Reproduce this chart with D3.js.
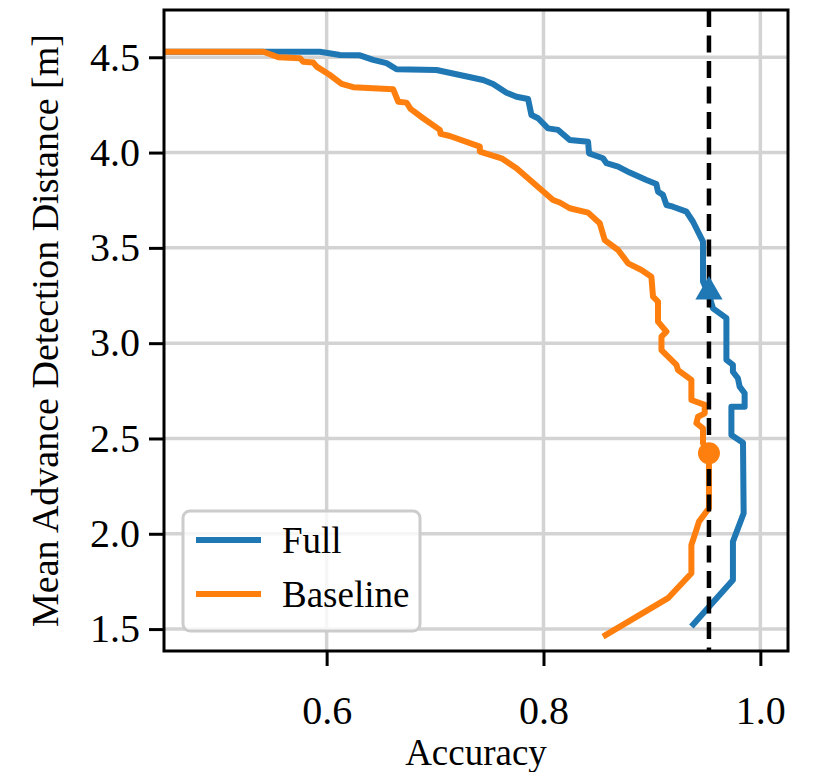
<!DOCTYPE html>
<html>
<head>
<meta charset="utf-8">
<script src="https://cdn.jsdelivr.net/npm/d3@7"></script>
<style>
  html, body { margin: 0; padding: 0; background: #fff; }
  svg { display: block; }
  text { font-family: "Liberation Serif", "DejaVu Serif", serif; fill: #000; }
</style>
</head>
<body>
<svg id="chart" width="813" height="772"></svg>
<script>
// Accuracy vs. mean advance detection distance, swept over the decision threshold
const fullAcc = [0.450, 0.5416, 0.5938, 0.6123, 0.6307, 0.6429, 0.6553, 0.6645, 0.7014, 0.7229,
  0.7443, 0.7535, 0.7659, 0.7751, 0.7858, 0.7889, 0.7950, 0.8042, 0.8135, 0.8242,
  0.8411, 0.8420, 0.8549, 0.8581, 0.8688, 0.8795, 0.8949, 0.9041, 0.9056, 0.9102,
  0.9134, 0.9194, 0.9318, 0.9379, 0.9471, 0.9471, 0.9526, 0.9563, 0.9687, 0.9687,
  0.9747, 0.9747, 0.9793, 0.9809, 0.9855, 0.9855, 0.9733, 0.9733, 0.9840, 0.9846,
  0.9747, 0.9747, 0.9364];
const fullDist = [4.529, 4.529, 4.529, 4.512, 4.510, 4.486, 4.469, 4.437, 4.433, 4.407,
  4.381, 4.360, 4.314, 4.293, 4.281, 4.197, 4.180, 4.127, 4.119, 4.066,
  4.057, 3.996, 3.970, 3.944, 3.926, 3.895, 3.856, 3.835, 3.795, 3.778,
  3.725, 3.716, 3.690, 3.637, 3.533, 3.323, 3.253, 3.183, 3.131, 2.912,
  2.886, 2.850, 2.816, 2.772, 2.737, 2.667, 2.667, 2.518, 2.478, 2.108,
  1.959, 1.758, 1.513];

const baseAcc = [0.450, 0.5416, 0.5554, 0.5754, 0.5784, 0.5877, 0.5908, 0.6030, 0.6138, 0.6245,
  0.6614, 0.6629, 0.6660, 0.6737, 0.6774, 0.6890, 0.7044, 0.7051, 0.7136, 0.7413,
  0.7413, 0.7613, 0.7751, 0.8088, 0.8150, 0.8242, 0.8411, 0.8519, 0.8565, 0.8688,
  0.8780, 0.8903, 0.8995, 0.9010, 0.9056, 0.9056, 0.9134, 0.9088, 0.9088, 0.9226,
  0.9241, 0.9364, 0.9364, 0.9487, 0.9487, 0.9425, 0.9410, 0.9471, 0.9471, 0.9526,
  0.9526, 0.9434, 0.9410, 0.9364, 0.9364, 0.9148, 0.8549];
const baseDist = [4.529, 4.529, 4.500, 4.495, 4.477, 4.472, 4.451, 4.407, 4.360, 4.343,
  4.332, 4.311, 4.267, 4.262, 4.229, 4.180, 4.119, 4.098, 4.087, 4.031,
  4.005, 3.970, 3.918, 3.751, 3.738, 3.708, 3.685, 3.629, 3.541, 3.489,
  3.419, 3.384, 3.349, 3.244, 3.218, 3.113, 3.060, 3.034, 2.964, 2.886,
  2.859, 2.807, 2.702, 2.676, 2.632, 2.614, 2.580, 2.553, 2.475, 2.422,
  2.134, 2.064, 2.020, 1.941, 1.793, 1.662, 1.460];

// Operating points selected at the target accuracy
const targetAcc = 0.9526;
const fullPoint = [0.9526, 3.27];
const basePoint = [0.9526, 2.422];

const xTicks = [0.6, 0.8, 1.0];
const yTicks = [1.5, 2.0, 2.5, 3.0, 3.5, 4.0, 4.5];
const seriesNames = ["Full", "Baseline"];
const seriesColors = ["#1f77b4", "#ff7f0e"];

const svg = d3.select("#chart");
const plot = { left: 164, right: 788, top: 10, bottom: 651 };

const x = d3.scaleLinear().domain([0.45, 1.0255]).range([plot.left, plot.right]);
const y = d3.scaleLinear().domain([1.385, 4.748]).range([plot.bottom, plot.top]);

svg.append("defs").append("clipPath").attr("id", "plot-clip")
  .append("rect")
  .attr("x", plot.left).attr("y", plot.top)
  .attr("width", plot.right - plot.left).attr("height", plot.bottom - plot.top);

// Grid
const grid = svg.append("g").attr("stroke", "#d3d3d3").attr("stroke-width", 3.5);
grid.selectAll("line.gx").data(xTicks).join("line")
  .attr("x1", d => x(d)).attr("x2", d => x(d))
  .attr("y1", plot.top).attr("y2", plot.bottom);
grid.selectAll("line.gy").data(yTicks).join("line")
  .attr("y1", d => y(d)).attr("y2", d => y(d))
  .attr("x1", plot.left).attr("x2", plot.right);

// Curves
const lineGen = d3.line().x(d => x(d[0])).y(d => y(d[1]));
const curves = svg.append("g").attr("clip-path", "url(#plot-clip)");
const fullPts = fullAcc.map((a, i) => [a, fullDist[i]]);
const basePts = baseAcc.map((a, i) => [a, baseDist[i]]);
[fullPts, basePts].forEach((pts, i) => {
  curves.append("path")
    .attr("d", lineGen(pts))
    .attr("fill", "none")
    .attr("stroke", seriesColors[i])
    .attr("stroke-width", 6)
    .attr("stroke-linejoin", "round")
    .attr("stroke-linecap", "butt");
});

// Target accuracy
svg.append("line")
  .attr("x1", x(targetAcc)).attr("x2", x(targetAcc))
  .attr("y1", plot.top).attr("y2", plot.bottom)
  .attr("stroke", "#000").attr("stroke-width", 4.5)
  .attr("stroke-dasharray", "17,8.5");

// Markers
svg.append("path")
  .attr("d", d3.symbol().type(d3.symbolTriangle).size(320)())
  .attr("transform", `translate(${x(fullPoint[0])},${y(fullPoint[1])})`)
  .attr("fill", seriesColors[0]);
svg.append("circle")
  .attr("cx", x(basePoint[0])).attr("cy", y(basePoint[1]))
  .attr("r", 11)
  .attr("fill", seriesColors[1]);

// Axes
const fmt = d3.format(".1f");
const xAxis = svg.append("g")
  .attr("transform", `translate(0,${plot.bottom})`)
  .call(d3.axisBottom(x).tickValues(xTicks).tickFormat(fmt).tickSizeInner(15).tickSizeOuter(0).tickPadding(30));
const yAxis = svg.append("g")
  .attr("transform", `translate(${plot.left},0)`)
  .call(d3.axisLeft(y).tickValues(yTicks).tickFormat(fmt).tickSizeInner(15).tickSizeOuter(0).tickPadding(9));
[xAxis, yAxis].forEach(g => {
  g.select(".domain").remove();
  g.selectAll(".tick line").attr("stroke", "#000").attr("stroke-width", 3);
  g.selectAll(".tick text").attr("font-size", 40).attr("font-family", "Liberation Serif, serif").attr("fill", "#000");
});

// Frame
svg.append("rect")
  .attr("x", plot.left).attr("y", plot.top)
  .attr("width", plot.right - plot.left).attr("height", plot.bottom - plot.top)
  .attr("fill", "none").attr("stroke", "#000").attr("stroke-width", 3);

// Axis titles
svg.append("text")
  .attr("x", (plot.left + plot.right) / 2).attr("y", 765)
  .attr("text-anchor", "middle").attr("font-size", 37)
  .text("Accuracy");
svg.append("text")
  .attr("transform", `translate(58,${(plot.top + plot.bottom) / 2}) rotate(-90)`)
  .attr("text-anchor", "middle").attr("font-size", 38)
  .text("Mean Advance Detection Distance [m]");

// Legend
const legend = svg.append("g");
legend.append("rect")
  .attr("x", 183).attr("y", 511).attr("width", 237).attr("height", 120)
  .attr("rx", 7).attr("ry", 7)
  .attr("fill", "#fff").attr("fill-opacity", 0.8)
  .attr("stroke", "#cccccc").attr("stroke-width", 3);
seriesNames.forEach((name, i) => {
  const cy = 540 + i * 54;
  legend.append("line")
    .attr("x1", 196).attr("x2", 261).attr("y1", cy).attr("y2", cy)
    .attr("stroke", seriesColors[i]).attr("stroke-width", 6);
  legend.append("text")
    .attr("x", 282).attr("y", cy + 13)
    .attr("font-size", 37)
    .text(name);
});
</script>
</body>
</html>
